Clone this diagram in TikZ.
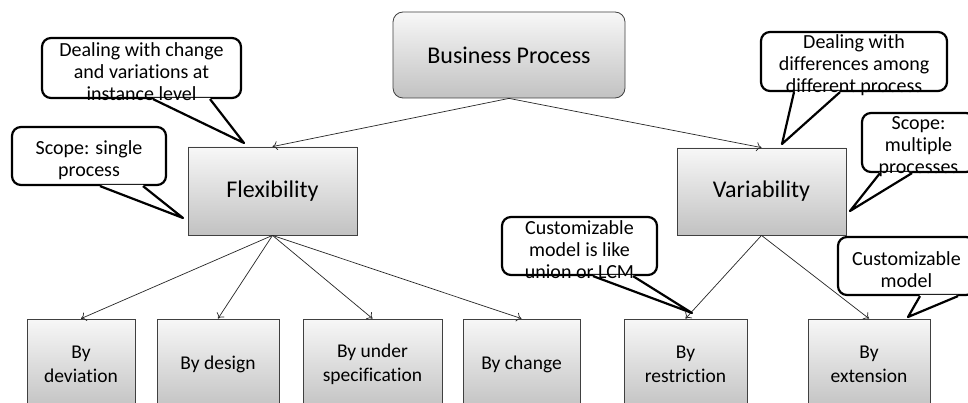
\documentclass[tikz,border=0pt]{standalone}
\usepackage{fontspec}
\setmainfont{Carlito}[Ligatures=NoCommon]
\usetikzlibrary{arrows.meta,calc}

% Speech bubble: name, centre, width, height, x of the two wedge base points, wedge tip, text
\newcommand\bubble[8]{%
  \node[bubbleframe, minimum width=#3, minimum height=#4] (#1) at #2 {};
  \fill[white] ($(#5,0 |- #1.south)+(0,-1.3)$) -- #7 -- ($(#6,0 |- #1.south)+(0,-1.3)$) -- cycle;
  \draw[line width=2.2pt, line join=round] (#5,0 |- #1.south) -- #7 -- (#6,0 |- #1.south);
  \node[bubbletext] (#1t) at ($(#1.center)+(0,4)$) {#8};
}

\begin{document}
\begin{tikzpicture}[x=1pt,y=-1pt,
  box/.style={draw=black!75, line width=0.8pt, top color=black!3, bottom color=black!24,
    font=\fontsize{24}{28}\selectfont, align=center, inner sep=0pt},
  leaf/.style={box, font=\fontsize{19.5}{24}\selectfont, minimum height=91pt},
  bubbleframe/.style={draw=black, line width=2.2pt, fill=white, rounded corners=9pt, inner sep=0pt},
  bubbletext/.style={font=\fontsize{20}{22}\selectfont, align=center, inner sep=0pt},
  link/.style={-{To[length=5pt,width=9pt]}, line width=0.7pt, black!85},
]
\useasboundingbox (0,0) rectangle (968,403);
\clip (0,0) rectangle (968,403);
\fill[white] (0,0) rectangle (968,403);

% main hierarchy
\node[box, rounded corners=10pt, minimum width=232pt, minimum height=86pt] (bp) at (509,55) {Business Process};
\node[box, minimum width=169pt, minimum height=88pt] (flex) at (272.5,191) {Flexibility};
\node[box, minimum width=169pt, minimum height=87pt] (var) at (761.5,191.5) {Variability};

% leaves
\node[leaf, minimum width=108pt] (dev) at (81,364.5) {By\\deviation};
\node[leaf, minimum width=122pt] (des) at (218,364.5) {By design};
\node[leaf, minimum width=139pt] (und) at (372.5,364.5) {By under\\specification};
\node[leaf, minimum width=117pt] (chg) at (521.5,364.5) {By change};
\node[leaf, minimum width=123pt] (res) at (685.5,364.5) {By\\restriction};
\node[leaf, minimum width=122pt] (ext) at (869,364.5) {By\\extension};

% connectors
\draw[link] (bp.south) -- (flex.north);
\draw[link] (bp.south) -- (var.north);
\foreach \t in {dev,des,und,chg} \draw[link] (flex.south) -- (\t.north);
\foreach \t in {res,ext} \draw[link] (var.south) -- (\t.north);

% annotations
\bubble{c1}{(141.5,68)}{199pt}{60pt}{153}{210}{(244,143)}{Dealing with change\\and variations at\\instance level}
\bubble{c2}{(89,156)}{154pt}{58pt}{100}{143}{(183,218)}{Scope: single\\process}
\bubble{c3}{(854,61.5)}{186pt}{59pt}{794}{840}{(782,144)}{Dealing with\\differences among\\different process}
\bubble{c4}{(918.5,142.5)}{113pt}{59pt}{880}{912}{(850,211)}{Scope:\\multiple\\processes}
\bubble{c5}{(579.5,246)}{155pt}{58pt}{593}{633}{(692,313)}{Customizable\\model is like\\union or LCM}
\bubble{c6}{(906.5,266)}{137pt}{58pt}{920}{958}{(908,317)}{Customizable\\model}
\end{tikzpicture}
\end{document}
